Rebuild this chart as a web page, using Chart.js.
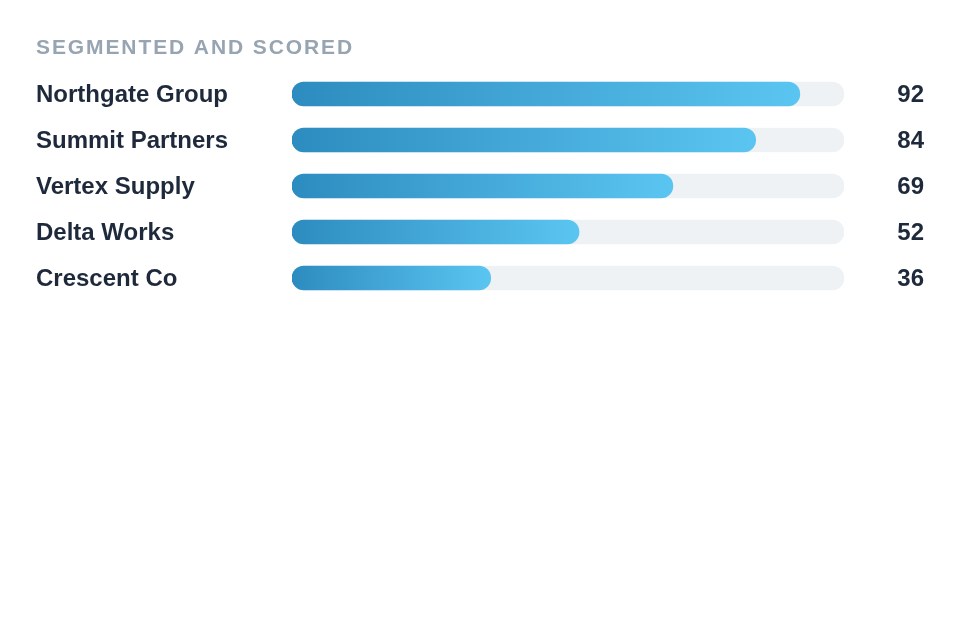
<!DOCTYPE html>
<html>
<head>
<meta charset="utf-8">
<script src="https://cdn.jsdelivr.net/npm/chart.js@4.4.1/dist/chart.umd.min.js"></script>
<style>
  html, body { margin: 0; padding: 0; background: #fff; }
  #wrap { width: 960px; height: 640px; }
</style>
</head>
<body>
<div id="wrap"><canvas id="scoreChart"></canvas></div>
<script>
const companies = ['Northgate Group', 'Summit Partners', 'Vertex Supply', 'Delta Works', 'Crescent Co'];
const scores = [92, 84, 69, 52, 36];
const maxScore = 100;
const chartTitle = 'SEGMENTED AND SCORED';

const font = '"Liberation Sans", Arial, Helvetica, sans-serif';

// title + value labels drawn on canvas
const extras = {
  id: 'extras',
  afterDraw(chart) {
    const c = chart.ctx;
    const area = chart.chartArea;
    const y = chart.scales.y;
    c.save();
    c.letterSpacing = '1.9px';
    c.font = 'bold 21px ' + font;
    c.fillStyle = '#97a4b1';
    c.textAlign = 'left';
    c.textBaseline = 'alphabetic';
    c.fillText(chartTitle, 36, 54);
    c.letterSpacing = '0px';
    c.font = 'bold 24px ' + font;
    c.fillStyle = '#1e2a3b';
    c.textAlign = 'right';
    c.textBaseline = 'middle';
    scores.forEach((v, i) => {
      c.fillText(String(v), area.right + 80, y.getPixelForValue(i) + 1);
    });
    c.restore();
  }
};

const ctx = document.getElementById('scoreChart');

new Chart(ctx, {
  type: 'bar',
  data: {
    labels: companies,
    datasets: [{
      label: 'Score',
      data: scores,
      order: 0,
      barThickness: 24,
      borderRadius: 12,
      borderSkipped: false,
      backgroundColor: (c) => {
        const chart = c.chart;
        if (!chart.chartArea || c.dataIndex === undefined) return '#3a9fd2';
        const x0 = chart.scales.x.getPixelForValue(0);
        const x1 = chart.scales.x.getPixelForValue(scores[c.dataIndex]);
        const g = chart.ctx.createLinearGradient(x0, 0, x1, 0);
        g.addColorStop(0, '#2d8cbf');
        g.addColorStop(1, '#5bc5f1');
        return g;
      }
    }, {
      label: 'Track',
      data: companies.map(() => maxScore),
      order: 1,
      barThickness: 24,
      borderRadius: 12,
      borderSkipped: false,
      backgroundColor: '#eef2f5'
    }]
  },
  options: {
    indexAxis: 'y',
    responsive: true,
    maintainAspectRatio: false,
    animation: false,
    datasets: { bar: { grouped: false } },
    layout: { padding: { left: 36, right: 116, top: 71, bottom: 339 } },
    plugins: {
      legend: { display: false },
      tooltip: { enabled: false }
    },
    scales: {
      x: { min: 0, max: maxScore, display: false },
      y: {
        grid: { display: false },
        border: { display: false },
        afterFit: (s) => { s.width = 256; },
        ticks: {
          crossAlign: 'far',
          padding: 0,
          labelOffset: 1,
          color: '#1e2a3b',
          font: { family: font, size: 24, weight: 'bold' }
        }
      }
    }
  },
  plugins: [extras]
});
</script>
</body>
</html>
